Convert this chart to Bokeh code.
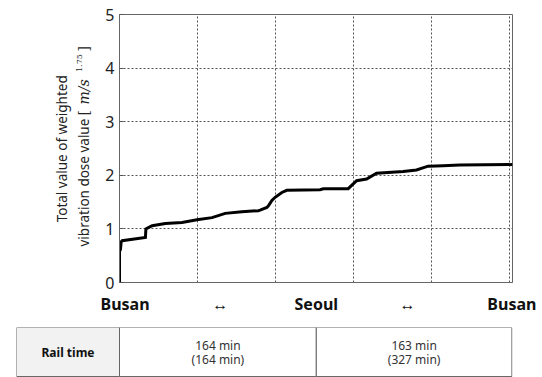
import math
from bokeh.plotting import figure
from bokeh.models import Range1d, FixedTicker
from bokeh.layouts import column, row
from bokeh.core.properties import value
from bokeh.embed import file_html
from bokeh.resources import INLINE

# ---- data ----
time_min = [0, 0, 0.8, 1.4, 2.2, 21.6, 22.0, 27.2, 38.2, 52.1, 64.6, 77.1, 88.1,
            102.0, 115.8, 117.2, 122.8, 124.1, 127.0, 129.7, 135.3, 139.4, 167.1,
            169.9, 190.6, 197.6, 205.9, 214.2, 236.4, 247.5, 257.2, 269.6, 283.5, 327.5]
vdv_total = [0.0, 0.58, 0.62, 0.76, 0.78, 0.84, 1.00, 1.06, 1.10, 1.12, 1.17, 1.21, 1.29,
             1.32, 1.34, 1.35, 1.40, 1.43, 1.53, 1.59, 1.68, 1.72, 1.73,
             1.75, 1.75, 1.90, 1.93, 2.04, 2.07, 2.10, 2.17, 2.18, 2.19, 2.20]

route_ticks = [0, 84, 164, 240, 327]
route_labels = ["Busan", "\u2194", "Seoul", "\u2194", "Busan"]
grid_ticks = [65, 130, 195, 260, 325]
y_ticks = [0, 1, 2, 3, 4, 5]

segment_minutes = [164, 163]
row_header = "Rail time"


def no_align(fig):
    if hasattr(fig, "frame_align"):
        fig.frame_align = False


# ---- y axis title panel (page-pixel coordinates) ----
yf = figure(width=100, height=320, output_backend="svg", toolbar_location=None,
            x_range=Range1d(0, 100), y_range=Range1d(282, 14),
            min_border_left=0, min_border_right=0, min_border_top=14, min_border_bottom=38)
yf.axis.visible = False
yf.grid.visible = False
yf.outline_line_color = None
yf.background_fill_color = "white"
yf.border_fill_color = "white"
no_align(yf)

ang = math.pi / 2
tc = "#222222"
yf.text(x=[61.7], y=[148.3], text=["Total value of weighted"], angle=ang,
        text_align="center", text_baseline="middle", text_font=value("Noto Sans"),
        text_font_size="13.5px", text_color=tc)
yf.text(x=[83.3], y=[246], text=["vibration dose value"], angle=ang,
        text_align="left", text_baseline="middle", text_font=value("Noto Sans"),
        text_font_size="13.5px", text_color=tc)
yf.text(x=[83.3, 83.3], y=[115, 51], text=["[", "]"], angle=ang,
        text_align="left", text_baseline="middle", text_font=value("DejaVu Serif"),
        text_font_size="14px", text_color=tc)
yf.text(x=[83.3], y=[104], text=["m/s"], angle=ang,
        text_align="left", text_baseline="middle", text_font=value("DejaVu Serif"),
        text_font_style="italic", text_font_size="14px", text_color=tc)
yf.text(x=[79.3], y=[71.5], text=["1.75"], angle=ang,
        text_align="left", text_baseline="middle", text_font=value("DejaVu Serif"),
        text_font_size="8px", text_color=tc)

# ---- main plot ----
p = figure(width=442, height=320, output_backend="svg", toolbar_location=None,
           x_range=Range1d(0, 327.5), y_range=Range1d(0, 5),
           min_border_left=19, min_border_right=30, min_border_top=14, min_border_bottom=38)
p.background_fill_color = "white"
p.border_fill_color = "white"
p.outline_line_color = "#666666"
p.outline_line_width = 1
no_align(p)

p.line(time_min, vdv_total, line_color="black", line_width=3, line_join="miter")

p.xgrid.ticker = FixedTicker(ticks=grid_ticks)
p.ygrid.ticker = FixedTicker(ticks=y_ticks)
for g in (p.xgrid, p.ygrid):
    g.grid_line_color = "#555555"
    g.grid_line_dash = "2 2"
    g.grid_line_width = 1

xa = p.xaxis[0]
xa.ticker = FixedTicker(ticks=route_ticks)
xa.major_label_overrides = {t: l for t, l in zip(route_ticks, route_labels)}
xa.major_tick_out = 0
xa.major_tick_in = 0
xa.minor_tick_out = 0
xa.minor_tick_in = 0
xa.axis_line_color = "#666666"
xa.major_label_standoff = 10
xa.major_label_text_font = "Noto Sans"
xa.major_label_text_font_style = "bold"
xa.major_label_text_font_size = "16px"
xa.major_label_text_color = "#111111"

ya = p.yaxis[0]
ya.ticker = FixedTicker(ticks=y_ticks)
ya.major_tick_out = 0
ya.major_tick_in = 4
ya.minor_tick_out = 0
ya.minor_tick_in = 0
ya.axis_line_color = "#666666"
ya.major_tick_line_color = "#555555"
ya.major_label_standoff = 5
ya.major_label_text_font = "Noto Sans"
ya.major_label_text_font_size = "16px"
ya.major_label_text_color = "#222222"

# ---- table row ----
ppx = 393.0 / 327.5
header_w = 103.0 / ppx
bounds = [0]
for m in segment_minutes:
    bounds.append(bounds[-1] + m)
seg_line1 = [f"{m} min" for m in segment_minutes]
seg_line2 = [f"({c} min)" for c in bounds[1:]]

t = figure(width=542, height=57, output_backend="svg", toolbar_location=None,
           x_range=Range1d(-header_w, 327.5), y_range=Range1d(-0.02, 1.0),
           min_border_left=16, min_border_right=30, min_border_top=7, min_border_bottom=0)
t.axis.visible = False
t.grid.visible = False
t.outline_line_color = None
t.background_fill_color = "white"
t.border_fill_color = "white"
no_align(t)

lefts = [-header_w] + bounds[:-1]
rights = [0] + bounds[1:]
fills = ["#f2f2f2"] + ["white"] * len(segment_minutes)
t.quad(left=lefts, right=rights, bottom=[0] * len(lefts), top=[1] * len(lefts),
       fill_color=fills, line_color="#666666", line_width=1)

t.text(x=[-header_w / 2], y=[0.49], text=[row_header], text_align="center",
       text_baseline="middle", text_font=value("Noto Sans"), text_font_style="bold",
       text_font_size="12px", text_color="#111111")
mids = [(a + b) / 2 for a, b in zip(bounds[:-1], bounds[1:])]
t.text(x=mids, y=[0.63] * len(mids), text=seg_line1, text_align="center",
       text_baseline="middle", text_font=value("Noto Sans"), text_font_size="12px",
       text_color="#333333")
t.text(x=mids, y=[0.34] * len(mids), text=seg_line2, text_align="center",
       text_baseline="middle", text_font=value("Noto Sans"), text_font_size="12px",
       text_color="#333333")

layout = column(row(yf, p, spacing=0), t, spacing=0)
open("out.html", "w").write(file_html(layout, INLINE))
